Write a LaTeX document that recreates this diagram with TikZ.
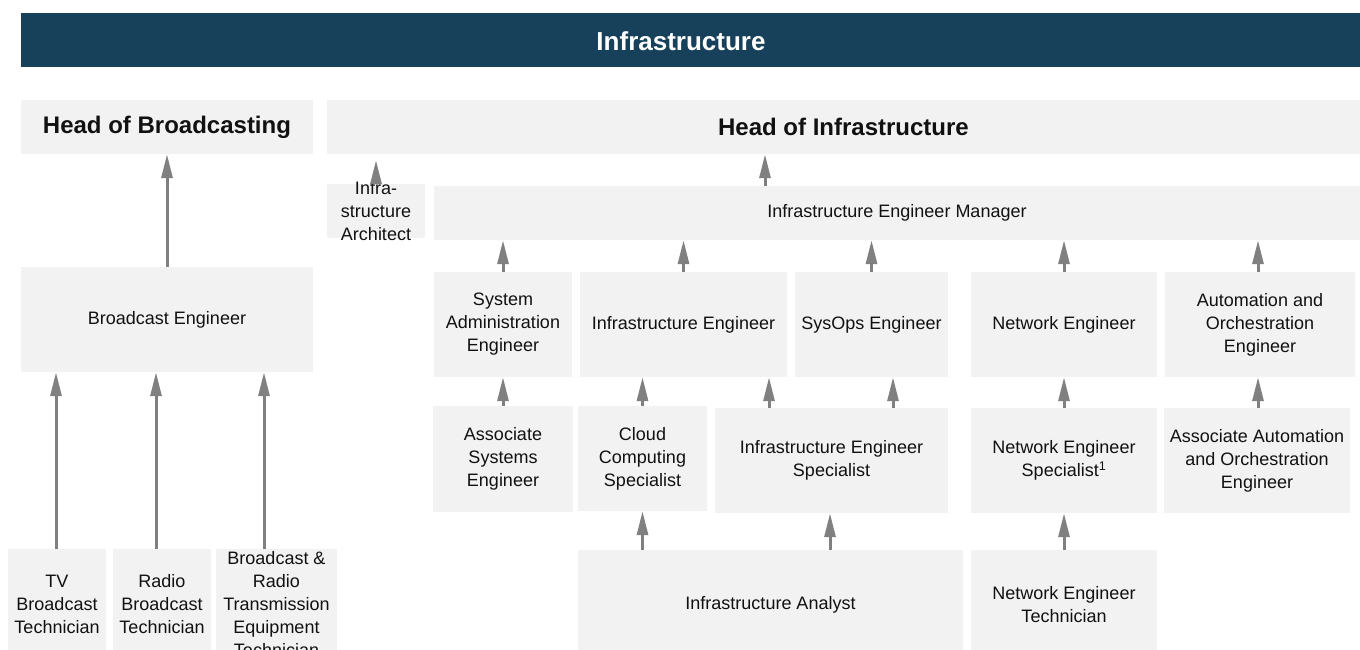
\documentclass[tikz,border=0pt]{standalone}
\usepackage{fontspec}
\setmainfont{Liberation Sans}
\usepackage{xcolor}
\usepackage{tikz}
\usetikzlibrary{arrows.meta}
\definecolor{ocBanner}{HTML}{17415A}
\definecolor{ocFill}{HTML}{F2F2F2}
\definecolor{ocArrow}{HTML}{808080}
\definecolor{ocInk}{HTML}{111111}
\tikzset{
  oc chart/.style={x=1pt, y=-1pt, text=ocInk,
    font=\fontsize{18}{23}\selectfont},
  oc box/.style={fill=ocFill, inner sep=0pt, align=center,
    minimum height=105pt},
  oc text/.style={inner sep=0pt, align=center},
  oc head/.style={oc box, minimum height=54pt,
    font=\fontsize{24}{28}\selectfont\bfseries},
  oc banner/.style={fill=ocBanner, inner sep=0pt, minimum height=54pt},
  oc arrow/.style={-{Triangle[length=24pt,width=11pt]}, draw=ocArrow,
    line width=3pt}
}
\begin{document}
\begin{tikzpicture}[oc chart]
\useasboundingbox (0,0) rectangle (1360,650);
% banner and heads
\node[oc banner, minimum width=1339pt] (banner) at (690.5,40) {};
\node[oc text, text=white, font=\fontsize{26}{30}\selectfont\bfseries] (bannerText) at (681,41) {Infrastructure};
\node[oc head, minimum width=292pt] (headBC) at (167,127) {Head of Broadcasting};
\node[oc head, minimum width=1033pt] (headInfra) at (843.5,127) {Head of Infrastructure};
\node[oc box, minimum width=98pt, minimum height=54pt] (architect) at (376,211) {};
\node[oc text] (architectText) at (376,211) {Infra-\\structure\\Architect};
\node[oc box, minimum width=926pt, minimum height=54pt] (manager) at (897,213) {Infrastructure Engineer Manager};
% broadcasting side
\node[oc box, minimum width=292pt] (bcEng) at (167,319.5) {Broadcast Engineer};
\node[oc box, minimum width=98pt, minimum height=111pt] (tvTech) at (57,604.5) {TV\\Broadcast\\Technician};
\node[oc box, minimum width=98pt, minimum height=111pt] (radioTech) at (162,604.5) {Radio\\Broadcast\\Technician};
\node[oc box, minimum width=121pt, minimum height=111pt] (txTech) at (276.5,604.5) {Broadcast \&\\Radio\\Transmission\\Equipment\\Technician};
% engineer row
\node[oc box, minimum width=138pt] (sysAdmin) at (503,324.5) {System\\Administration\\Engineer};
\node[oc box, minimum width=207pt] (infraEng) at (683.5,324.5) {Infrastructure Engineer};
\node[oc box, minimum width=153pt] (sysOps) at (871.5,324.5) {SysOps Engineer};
\node[oc box, minimum width=186pt] (netEng) at (1064,324.5) {Network Engineer};
\node[oc box, minimum width=190pt] (autoEng) at (1260,324.5) {Automation and\\Orchestration\\Engineer};
% specialist row
\node[oc box, minimum width=140pt, minimum height=106pt] (assocSys) at (503,459) {Associate\\Systems\\Engineer};
\node[oc box, minimum width=129pt] (cloudSpec) at (642.5,458.5) {Cloud\\Computing\\Specialist};
\node[oc box, minimum width=233pt] (infraSpec) at (831.5,460.5) {Infrastructure Engineer\\Specialist};
\node[oc box, minimum width=186pt] (netSpec) at (1064,460.5) {Network Engineer\\Specialist\textsuperscript{1}};
\node[oc box, minimum width=186pt] (assocAuto) at (1257,460.5) {Associate Automation\\and Orchestration\\Engineer};
% entry row
\node[oc box, minimum width=385pt, minimum height=110pt] (analyst) at (770.5,605) {Infrastructure Analyst};
\node[oc box, minimum width=186pt, minimum height=110pt] (netTech) at (1064,605) {Network Engineer\\Technician};
% reporting lines
\draw[oc arrow] (bcEng.north) -- (headBC.south);
\draw[oc arrow] (56,0 |- tvTech.north) -- (56,0 |- bcEng.south);
\draw[oc arrow] (156,0 |- radioTech.north) -- (156,0 |- bcEng.south);
\draw[oc arrow] (264,0 |- txTech.north) -- (264,0 |- bcEng.south);
\draw[oc arrow] (architect.north) -- ([yshift=-6pt]architect.north |- headInfra.south);
\draw[oc arrow] (765,0 |- manager.north) -- (765,0 |- headInfra.south);
\draw[oc arrow] (sysAdmin.north) -- (sysAdmin.north |- manager.south);
\draw[oc arrow] (infraEng.north) -- (infraEng.north |- manager.south);
\draw[oc arrow] (sysOps.north) -- (sysOps.north |- manager.south);
\draw[oc arrow] (netEng.north) -- (netEng.north |- manager.south);
\draw[oc arrow] (1258,0 |- autoEng.north) -- (1258,0 |- manager.south);
\draw[oc arrow] (assocSys.north) -- (assocSys.north |- sysAdmin.south);
\draw[oc arrow] (cloudSpec.north) -- (cloudSpec.north |- infraEng.south);
\draw[oc arrow] (769,0 |- infraSpec.north) -- (769,0 |- infraEng.south);
\draw[oc arrow] (893,0 |- infraSpec.north) -- (893,0 |- sysOps.south);
\draw[oc arrow] (netSpec.north) -- (netSpec.north |- netEng.south);
\draw[oc arrow] (1258,0 |- assocAuto.north) -- (1258,0 |- autoEng.south);
\draw[oc arrow] (cloudSpec.south |- analyst.north) -- (cloudSpec.south);
\draw[oc arrow] (830,0 |- analyst.north) -- (830,0 |- infraSpec.south);
\draw[oc arrow] (netTech.north) -- (netSpec.south);
\end{tikzpicture}
\end{document}
